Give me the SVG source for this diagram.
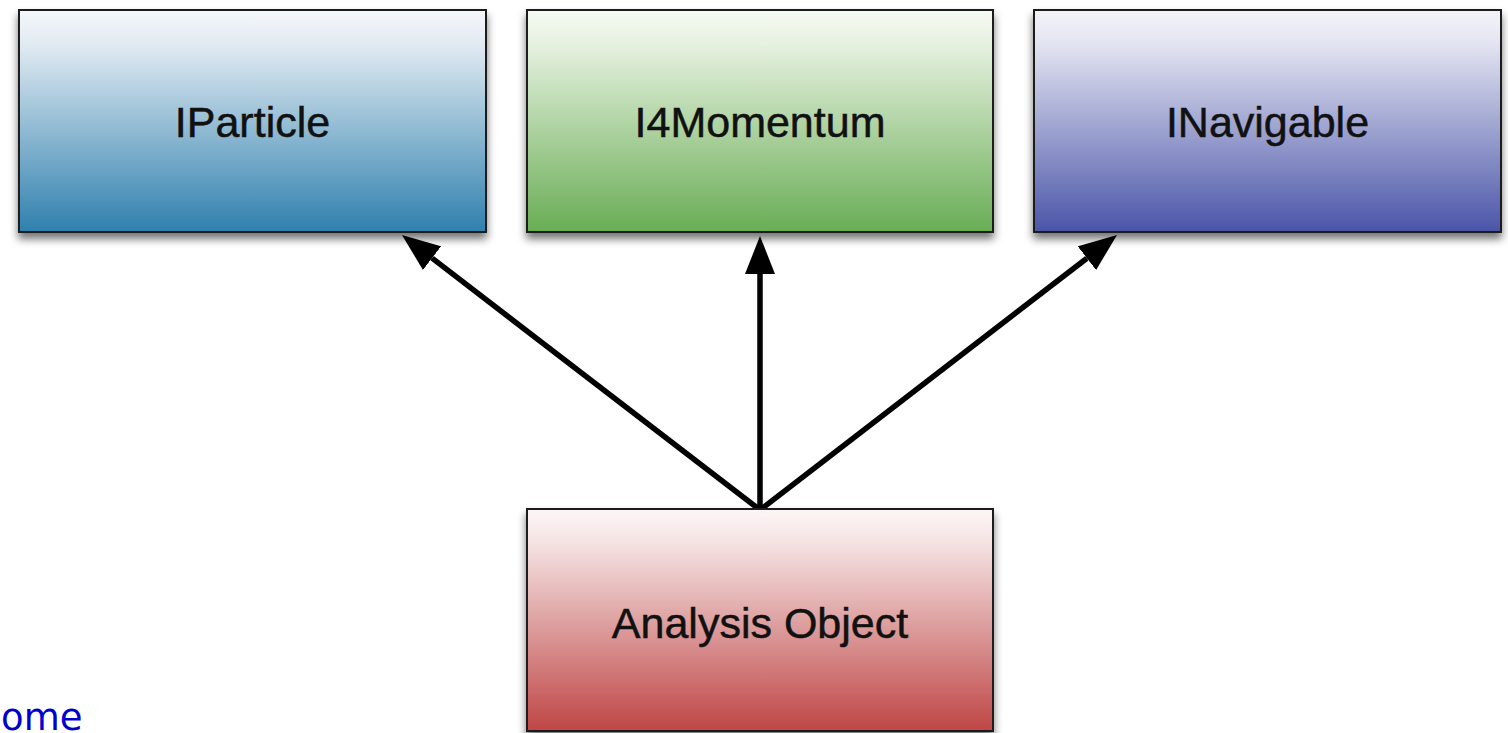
<svg xmlns="http://www.w3.org/2000/svg" width="1508" height="733" viewBox="0 0 1508 733">
  <defs>
    <linearGradient id="gBlue" x1="0" y1="0" x2="0" y2="1">
      <stop offset="0" stop-color="#f5f7fb"/>
      <stop offset="0.15" stop-color="#e2ebf2"/>
      <stop offset="1" stop-color="#2f80ae"/>
    </linearGradient>
    <linearGradient id="gGreen" x1="0" y1="0" x2="0" y2="1">
      <stop offset="0" stop-color="#f6faf3"/>
      <stop offset="0.15" stop-color="#e6f1e0"/>
      <stop offset="1" stop-color="#69ad55"/>
    </linearGradient>
    <linearGradient id="gPurple" x1="0" y1="0" x2="0" y2="1">
      <stop offset="0" stop-color="#f3f4f9"/>
      <stop offset="0.15" stop-color="#e3e4f1"/>
      <stop offset="1" stop-color="#4a55a8"/>
    </linearGradient>
    <linearGradient id="gRed" x1="0" y1="0" x2="0" y2="1">
      <stop offset="0" stop-color="#fdf6f6"/>
      <stop offset="0.15" stop-color="#f5e3e3"/>
      <stop offset="1" stop-color="#bf4646"/>
    </linearGradient>
    <filter id="shadow" x="-10%" y="-10%" width="120%" height="130%">
      <feDropShadow dx="0" dy="6" stdDeviation="4" flood-color="#000" flood-opacity="0.55"/>
    </filter>
    <marker id="arrow" viewBox="0 -15 38 30" markerWidth="38" markerHeight="30" refX="0" refY="0" orient="auto" markerUnits="userSpaceOnUse">
      <path d="M0,-15 L38,0 L0,15 z" fill="#000"/>
    </marker>
    <style>
      .box { stroke: #1a1a1a; stroke-width: 2; filter: url(#shadow); }
      .label { font-family: "Liberation Sans", Arial, Helvetica, sans-serif; font-size: 43px; fill: #111; stroke: #111; stroke-width: 0.5; text-anchor: middle; }
      .edge { stroke: #000; stroke-width: 5.5; fill: none; marker-end: url(#arrow); }
      .link { font-family: "DejaVu Sans", Verdana, sans-serif; font-size: 37px; fill: #0000cc; }
    </style>
  </defs>
  <rect width="1508" height="733" fill="#fff"/>

  <g id="connectors">
    <line class="edge" x1="760" y1="510" x2="432.1" y2="258.1"/>
    <line class="edge" x1="760" y1="510" x2="760" y2="274"/>
    <line class="edge" x1="760" y1="510" x2="1086.9" y2="258.2"/>
  </g>

  <g id="IParticle">
    <rect class="box" x="19" y="10" width="467" height="222" fill="url(#gBlue)"/>
    <text class="label" x="252.5" y="137">IParticle</text>
  </g>
  <g id="I4Momentum">
    <rect class="box" x="527" y="10" width="466" height="222" fill="url(#gGreen)"/>
    <text class="label" x="760" y="137">I4Momentum</text>
  </g>
  <g id="INavigable">
    <rect class="box" x="1034" y="10" width="467" height="222" fill="url(#gPurple)"/>
    <text class="label" x="1267.5" y="137">INavigable</text>
  </g>
  <g id="AnalysisObject">
    <rect class="box" x="527" y="509" width="466" height="222" fill="url(#gRed)"/>
    <text class="label" x="760" y="638">Analysis Object</text>
  </g>

  <text class="link" x="1" y="730">ome</text>
</svg>
